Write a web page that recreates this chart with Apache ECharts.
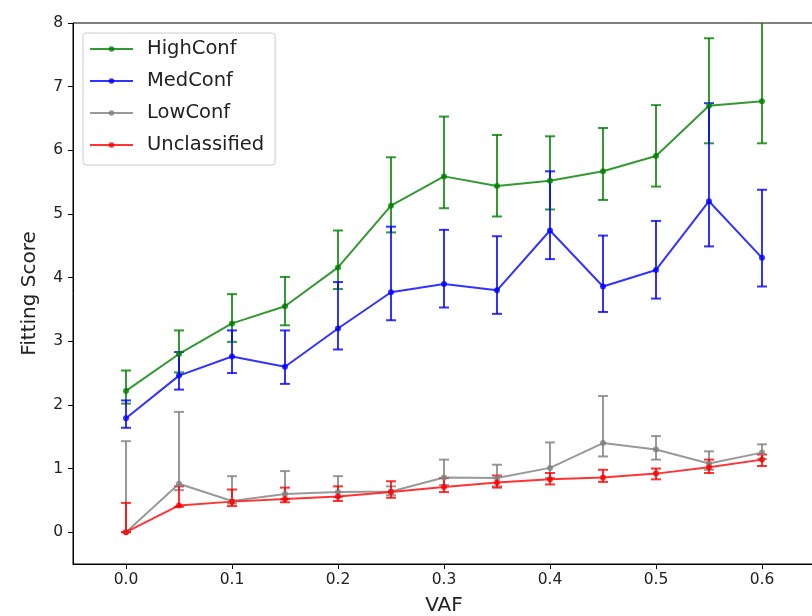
<!DOCTYPE html>
<html>
<head>
<meta charset="utf-8">
<script src="https://cdn.jsdelivr.net/npm/echarts@6/dist/echarts.min.js"></script>
<style>
  html, body { margin: 0; padding: 0; background: #fff; }
  #chart { width: 812px; height: 616px; }
</style>
</head>
<body>
<div id="chart"></div>
<script>
// VAF values on the x axis
const vaf = [0, 0.05, 0.1, 0.15, 0.2, 0.25, 0.3, 0.35, 0.4, 0.45, 0.5, 0.55, 0.6];
const xTicks = [0, 0.1, 0.2, 0.3, 0.4, 0.5, 0.6];
const yTicks = [0, 1, 2, 3, 4, 5, 6, 7, 8];

// mean fitting score and error bar ends (low / high) per class
const highMean = [2.22, 2.80, 3.28, 3.55, 4.16, 5.13, 5.59, 5.44, 5.52, 5.67, 5.91, 6.70, 6.77];
const highLow = [2.02, 2.51, 2.99, 3.25, 3.82, 4.71, 5.09, 4.96, 5.07, 5.22, 5.43, 6.11, 6.11];
const highHigh = [2.54, 3.17, 3.74, 4.01, 4.74, 5.89, 6.53, 6.24, 6.22, 6.35, 6.71, 7.76, 8.2];

const medMean = [1.79, 2.46, 2.76, 2.60, 3.20, 3.77, 3.90, 3.80, 4.74, 3.86, 4.12, 5.20, 4.31];
const medLow = [1.64, 2.24, 2.50, 2.33, 2.87, 3.33, 3.53, 3.43, 4.29, 3.46, 3.67, 4.49, 3.86];
const medHigh = [2.07, 2.83, 3.17, 3.17, 3.93, 4.80, 4.75, 4.65, 5.67, 4.66, 4.89, 6.74, 5.38];

const lowMean = [0.00, 0.76, 0.49, 0.60, 0.63, 0.64, 0.86, 0.85, 1.01, 1.40, 1.30, 1.08, 1.25];
const lowLow = [0.00, 0.66, 0.45, 0.52, 0.55, 0.58, 0.74, 0.72, 0.85, 1.19, 1.14, 0.98, 1.15];
const lowHigh = [1.43, 1.89, 0.88, 0.96, 0.88, 0.72, 1.14, 1.06, 1.41, 2.14, 1.51, 1.27, 1.38];

const unclMean = [0.00, 0.42, 0.48, 0.52, 0.56, 0.63, 0.71, 0.78, 0.83, 0.86, 0.92, 1.02, 1.14];
const unclLow = [0.00, 0.40, 0.41, 0.47, 0.49, 0.54, 0.63, 0.70, 0.75, 0.79, 0.83, 0.93, 1.04];
const unclHigh = [0.46, 0.72, 0.67, 0.70, 0.72, 0.80, 0.85, 0.89, 0.93, 0.98, 1.00, 1.14, 1.22];

const groups = [
  { name: 'HighConf', color: 'rgba(0,128,0,0.8)', mean: highMean, low: highLow, high: highHigh },
  { name: 'MedConf', color: 'rgba(0,0,255,0.8)', mean: medMean, low: medLow, high: medHigh },
  { name: 'LowConf', color: 'rgba(128,128,128,0.8)', mean: lowMean, low: lowLow, high: lowHigh },
  { name: 'Unclassified', color: 'rgba(255,0,0,0.8)', mean: unclMean, low: unclLow, high: unclHigh },
];

const font = 'DejaVu Sans';
const capHalf = 5;

function errorBarItem(color) {
  return function (params, api) {
    const x = api.value(0);
    const top = api.coord([x, api.value(2)]);
    const bot = api.coord([x, api.value(1)]);
    const style = { stroke: color, lineWidth: 2 };
    return {
      type: 'group',
      children: [
        { type: 'line', shape: { x1: top[0], y1: top[1], x2: bot[0], y2: bot[1] }, style },
        { type: 'line', shape: { x1: top[0] - capHalf, y1: top[1], x2: top[0] + capHalf, y2: top[1] }, style },
        { type: 'line', shape: { x1: bot[0] - capHalf, y1: bot[1], x2: bot[0] + capHalf, y2: bot[1] }, style },
      ],
    };
  };
}

const series = [];
groups.forEach(g => {
  series.push({
    type: 'custom',
    name: g.name + ' err',
    renderItem: errorBarItem(g.color),
    clip: true,
    silent: true,
    data: vaf.map((x, i) => [x, g.low[i], g.high[i]]),
  });
  series.push({
    type: 'line',
    name: g.name,
    data: vaf.map((x, i) => [x, g.mean[i]]),
    symbol: 'circle',
    symbolSize: 6,
    showSymbol: true,
    color: g.color,
    lineStyle: { width: 2, color: g.color },
    itemStyle: { color: g.color },
    animation: false,
  });
});

const chart = echarts.init(document.getElementById('chart'));
chart.setOption({
  animation: false,
  backgroundColor: '#fff',
  textStyle: { fontFamily: font },
  grid: {
    left: 73, top: 23, width: 742, height: 541,
    outerBoundsMode: 'none',
    containLabel: false,
    show: true, borderColor: '#000', borderWidth: 1,
  },
  legend: {
    data: groups.map(g => g.name),
    orient: 'vertical',
    left: 83, top: 33,
    itemWidth: 43, itemHeight: 7,
    itemGap: 10,
    padding: [5, 11, 9, 6],
    backgroundColor: 'rgba(255,255,255,0.8)',
    borderColor: '#ccc', borderWidth: 1, borderRadius: 3,
    textStyle: { fontFamily: font, fontSize: 19.5, color: '#222', lineHeight: 22, padding: [0, 0, 0, 9] },
  },
  xAxis: {
    type: 'value',
    min: -0.05, max: 0.65,
    name: 'VAF',
    nameLocation: 'middle',
    nameGap: 32,
    nameTextStyle: { fontFamily: font, fontSize: 20, color: '#222' },
    splitLine: { show: false },
    axisLine: { show: true, onZero: false, lineStyle: { color: '#000', width: 1 } },
    axisTick: { show: true, length: 5, customValues: xTicks, lineStyle: { color: '#000' } },
    axisLabel: {
      customValues: xTicks, margin: 8,
      fontFamily: font, fontSize: 15.5, color: '#222',
      formatter: v => v.toFixed(1),
    },
  },
  yAxis: {
    type: 'value',
    min: -0.5, max: 8,
    name: 'Fitting Score',
    nameLocation: 'middle',
    nameRotate: 90,
    nameGap: 33,
    nameTextStyle: { fontFamily: font, fontSize: 20, color: '#222' },
    splitLine: { show: false },
    axisLine: { show: true, onZero: false, lineStyle: { color: '#000', width: 1 } },
    axisTick: { show: true, length: 5, customValues: yTicks, lineStyle: { color: '#000' } },
    axisLabel: {
      customValues: yTicks, margin: 10,
      fontFamily: font, fontSize: 15.5, color: '#222',
    },
  },
  series: series,
});
</script>
</body>
</html>
